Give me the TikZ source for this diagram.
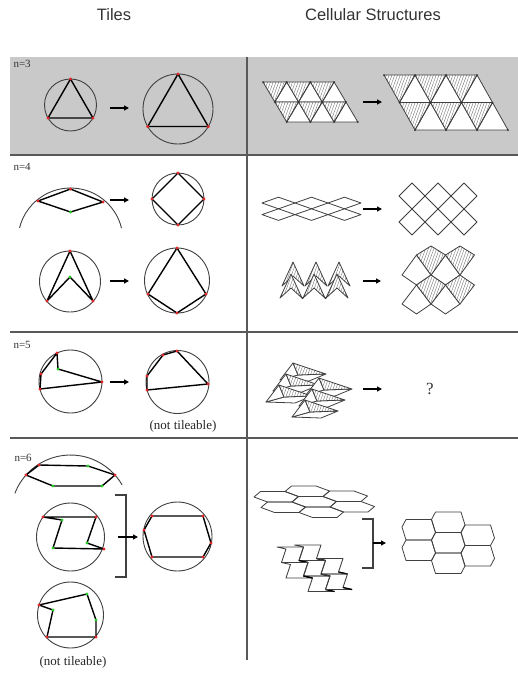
\documentclass[tikz,border=0pt]{standalone}
\usepackage{fontspec}
\setmainfont{Liberation Serif}
\newfontfamily\headfont{Liberation Sans}
\usetikzlibrary{arrows.meta,patterns.meta}
\definecolor{band}{RGB}{201,201,201}
\definecolor{vred}{RGB}{228,38,38}
\definecolor{vgreen}{RGB}{40,205,40}
\tikzset{
  sep/.style={draw=black!65, line width=1.2pt},
  ring/.style={draw=black!75, line width=0.9pt},
  tile/.style={draw=black, line width=1.4pt, line join=round},
  cell/.style={draw=black!75, line width=0.8pt, line join=round},
  blank/.style={cell, fill=white},
  hatched/.style={cell, preaction={fill=white}, pattern={Lines[angle=70,distance=2.6pt,line width=0.35pt]}, pattern color=black!60},
  arr/.style={-{Triangle[length=5pt,width=5pt]}, line width=1.3pt},
  title/.style={font=\headfont\fontsize{16.5}{18}\selectfont, text=black!80},
  lab/.style={font=\fontsize{11}{12}\selectfont, anchor=west, text=black!80},
  note/.style={font=\fontsize{13}{14}\selectfont, text=black!85},
}
% vertex markers
\newcommand\rdot[1]{\fill[vred] #1 circle (1.7);}
\newcommand\gdot[1]{\fill[vgreen] #1 circle (1.7);}
\newcommand\ndot[1]{\fill[black!80] #1 circle (1.0);}
% triangle lattice: x0, y0, side, row height
\newcommand\trilattice[4]{%
  \path[fill=white] (#1,#2) -- (#1+3*#3,#2) -- (#1+4*#3,#2+2*#4) -- (#1+#3,#2+2*#4) -- cycle;
  \foreach \j in {0,1}{\foreach \i in {0,1,2}{%
    \path[hatched] (#1+\i*#3+\j*#3/2,#2+\j*#4) -- ++(#3,0) -- ++(-#3/2,#4) -- cycle;
    \path[cell] (#1+\i*#3+\j*#3/2+#3,#2+\j*#4) -- ++(#3/2,#4) -- ++(-#3,0) -- cycle;}}
  \foreach \j in {0,1,2}{\foreach \i in {0,1,2,3}{%
    \fill[black!80] (#1+\i*#3+\j*#3/2,#2+\j*#4) circle (1.0);}}
}
% kite cell: style, centre x, half width, top y, side y, bottom y
\newcommand\kitecell[6]{\path[#1] (#2,#4) -- (#2+#3,#5) -- (#2,#6) -- (#2-#3,#5) -- cycle;}
% folded dart cell with apex at (#1,#2)
\newcommand\dartcell[2]{\path[hatched] (#1,#2) -- ++(11,24) -- ++(-11,-10) -- ++(-11,10) -- cycle;}
% folded wedge cell with tip at (#1,#2)
\newcommand\prismcell[2]{%
  \path[blank] (#1-13,#2+17) -- (#1+5,#2+12) -- (#1+33,#2+11) -- (#1+16,#2+18) -- cycle;
  \path[blank] (#1,#2) -- (#1-13,#2+17) -- (#1+5,#2+12) -- cycle;
  \path[hatched] (#1,#2) -- (#1+33,#2+11) -- (#1+5,#2+12) -- cycle;
}
\begin{document}
\begin{tikzpicture}[x=1pt,y=-1pt]
\useasboundingbox (0,0) rectangle (518,673);
\fill[white] (0,0) rectangle (518,673);

% ---------- headings ----------
\node[title] (hTiles) at (114,15) {Tiles};
\node[title] (hCells) at (373,15) {Cellular Structures};

% ---------- table ----------
\fill[band] (10,57) rectangle (518,155);
\draw[sep] (10,155) -- (518,155);
\draw[sep] (10,332) -- (518,332);
\draw[sep] (10,438) -- (518,438);
\draw[sep] (247,57) -- (247,660);

\node[lab] (n3) at (10,64) {n=3};
\node[lab] (n4) at (10,167) {n=4};
\node[lab] (n5) at (10,345) {n=5};
\node[lab] (n6) at (11,458) {n=6};

% ---------- n = 3 ----------
\draw[ring] (70.5,105) circle (26);
\draw[tile] (70.5,79) -- (93,118) -- (48,118) -- cycle;
\rdot{(70.5,79)}\rdot{(93,118)}\rdot{(48,118)}
\coordinate (a3l) at (110,108); \coordinate (a3r) at (129,108);
\draw[arr] (a3l) -- (a3r);
\draw[ring] (178,109) circle (35);
\draw[tile] (178,74) -- (208.3,126.5) -- (147.7,126.5) -- cycle;
\rdot{(178,74)}\rdot{(208.3,126.5)}\rdot{(147.7,126.5)}

\trilattice{263}{82}{23.7}{20}
\coordinate (s3l) at (363,102); \coordinate (s3r) at (382,102);
\draw[arr] (s3l) -- (s3r);
\trilattice{384}{75}{31}{27.5}

% ---------- n = 4 ----------
\draw[ring] (70.5,240.5) ++(193.9:52.5) arc[start angle=193.9, end angle=346.4, radius=52.5];
\draw[tile] (38,201) -- (70.5,189) -- (103,202) -- (70.5,212) -- cycle;
\rdot{(38,201)}\rdot{(70.5,189)}\rdot{(103,202)}\gdot{(70.5,212)}
\coordinate (a4l) at (110,200); \coordinate (a4r) at (129,200);
\draw[arr] (a4l) -- (a4r);
\draw[ring] (178,199) circle (26);
\draw[tile] (178,173) -- (204,199) -- (178,225) -- (152,199) -- cycle;
\rdot{(178,173)}\rdot{(204,199)}\rdot{(178,225)}\rdot{(152,199)}

\draw[ring] (70,281.5) circle (30.5);
\draw[tile] (70,251) -- (93,301) -- (70,277) -- (47,301) -- cycle;
\rdot{(70,251)}\rdot{(93,301)}\rdot{(47,301)}\gdot{(70,277)}
\coordinate (b4l) at (110,281); \coordinate (b4r) at (129,281);
\draw[arr] (b4l) -- (b4r);
\draw[ring] (177,280.5) circle (32.5);
\draw[tile] (177,248) -- (206,294) -- (177,313) -- (148,294) -- cycle;
\rdot{(177,248)}\rdot{(206,294)}\rdot{(177,313)}\rdot{(148,294)}

% flat rhombus sheet and open square lattice
\foreach \cx in {278.5,311.5,344.5}{\foreach \cy in {203,214.6}{%
  \draw[cell] (\cx,\cy-5.8) -- (\cx+16.5,\cy) -- (\cx,\cy+5.8) -- (\cx-16.5,\cy) -- cycle;}}
\coordinate (s4l) at (363,209); \coordinate (s4r) at (382,209);
\draw[arr] (s4l) -- (s4r);
\foreach \cx in {412,438,464}{\foreach \cy in {196,222}{%
  \draw[cell] (\cx,\cy-13) -- (\cx+13,\cy) -- (\cx,\cy+13) -- (\cx-13,\cy) -- cycle;}}

% folded dart sheet and kite lattice
\dartcell{293}{262}\dartcell{316}{262}\dartcell{339}{262}
\dartcell{291}{274}\dartcell{314}{274}\dartcell{337}{274}
\ndot{(302.5,298)}\ndot{(325.5,298)}
\coordinate (t4l) at (363,281); \coordinate (t4r) at (381,281);
\draw[arr] (t4l) -- (t4r);
\kitecell{blank}{416.5}{14.5}{255}{275}{285}
\kitecell{blank}{445.5}{14.5}{255}{275}{285}
\kitecell{blank}{416.5}{14.5}{285}{304}{314}
\kitecell{blank}{445.5}{14.5}{285}{304}{314}
\kitecell{hatched}{431}{14.5}{246}{255}{275}
\kitecell{hatched}{460}{14.5}{246}{255}{275}
\kitecell{hatched}{431}{14.5}{275}{285}{304}
\kitecell{hatched}{460}{14.5}{275}{285}{304}

% ---------- n = 5 ----------
\draw[ring] (70.5,381.5) circle (31.5);
\draw[tile] (57,353) -- (58,369) -- (102,382) -- (40,389) -- (41,374) -- cycle;
\rdot{(57,353)}\gdot{(58,369)}\rdot{(102,382)}\rdot{(40,389)}\rdot{(41,374)}
\coordinate (a5l) at (110,382); \coordinate (a5r) at (129,382);
\draw[arr] (a5l) -- (a5r);
\draw[ring] (177.5,382) circle (31.5);
\draw[tile] (147,376) -- (163,355) -- (177,351) -- (208,384) -- (147,390) -- cycle;
\rdot{(147,376)}\rdot{(163,355)}\rdot{(177,351)}\rdot{(208,384)}\rdot{(147,390)}
\node[note] (nt5) at (183,426) {(not tileable)};

\prismcell{293}{363}\prismcell{286}{374}\prismcell{279}{385}
\prismcell{319}{378}\prismcell{312}{389}\prismcell{305}{400}
\coordinate (s5l) at (363,389); \coordinate (s5r) at (382,389);
\draw[arr] (s5l) -- (s5r);
\node[font=\fontsize{17}{18}\selectfont, text=black!80] (q5) at (430,389) {?};

% ---------- n = 6 ----------
\draw[ring] (70.5,514.5) ++(200.8:59.5) arc[start angle=200.8, end angle=330.2, radius=59.5];
\draw[tile] (39,465) -- (88,466) -- (115,475) -- (102,486) -- (53,486) -- (26,475) -- cycle;
\rdot{(39,465)}\gdot{(88,466)}\rdot{(115,475)}\gdot{(102,486)}\gdot{(53,486)}\rdot{(26,475)}

\draw[ring] (70.5,537) circle (34);
\draw[tile] (43,517) -- (96,517) -- (87,543) -- (104,549) -- (53,548) -- (62,520) -- cycle;
\rdot{(43,517)}\rdot{(96,517)}\gdot{(87,543)}\rdot{(104,549)}\gdot{(53,548)}\gdot{(62,520)}

\draw[ring] (70.5,615) circle (33);
\draw[tile] (39,605) -- (87,594) -- (96,620) -- (96,637) -- (47,637) -- (53,610) -- cycle;
\rdot{(39,605)}\gdot{(87,594)}\gdot{(96,620)}\rdot{(96,637)}\rdot{(47,637)}\gdot{(53,610)}
\node[note] (nt6) at (73,662) {(not tileable)};

\draw[line width=1.1pt, black!75] (115,495) -- (126,495) -- (126,577) -- (115,577);
\coordinate (a6l) at (118,537); \coordinate (a6r) at (138,537);
\draw[arr] (a6l) -- (a6r);
\draw[ring] (177.5,536.5) circle (34.5);
\draw[tile] (152,516) -- (203,516) -- (211,543) -- (203,557) -- (152,557) -- (144,530) -- cycle;
\rdot{(152,516)}\rdot{(203,516)}\rdot{(211,543)}\rdot{(203,557)}\rdot{(152,557)}\rdot{(144,530)}

% flat hexagon sheet
\begin{scope}[shift={(291.5,486)},scale=0.5]
  \foreach \dx/\dy in {0/0,14/21,28/42,-62/11,-48/32,76/10,90/31}
    \draw[cell] (\dx,\dy) -- ++(49,0) -- ++(27,10) -- ++(-13,11) -- ++(-49,0) -- ++(-27,-10) -- cycle;
\end{scope}
% folded zigzag sheet
\begin{scope}[shift={(294.5,545)},scale=0.5]
  \foreach \dx/\dy in {0/0,9/31,18/62,-35/4,-26/35,44/27,53/58}{
    \draw[cell] (\dx,\dy) -- ++(53,0) -- ++(-9,27) -- ++(18,4) -- ++(-53,0) -- ++(9,-27) -- cycle;
    \draw[line width=1.3pt] (\dx+44,\dy+27) -- ++(18,4);}
\end{scope}
\draw[line width=1.1pt, black!75] (362,519) -- (373,519) -- (373,568) -- (362,568);
\coordinate (s6l) at (373,543); \coordinate (s6r) at (386,543);
\draw[arr] (s6l) -- (s6r);
% open honeycomb
\begin{scope}[shift={(435.5,512)},scale=0.5]
  \foreach \dx/\dy in {0/0,0/41,0/82,-59/15,-59/56,59/26,59/67}
    \draw[cell] (\dx,\dy) -- ++(51,0) -- ++(8,26) -- ++(-8,15) -- ++(-51,0) -- ++(-8,-26) -- cycle;
\end{scope}
\end{tikzpicture}
\end{document}
